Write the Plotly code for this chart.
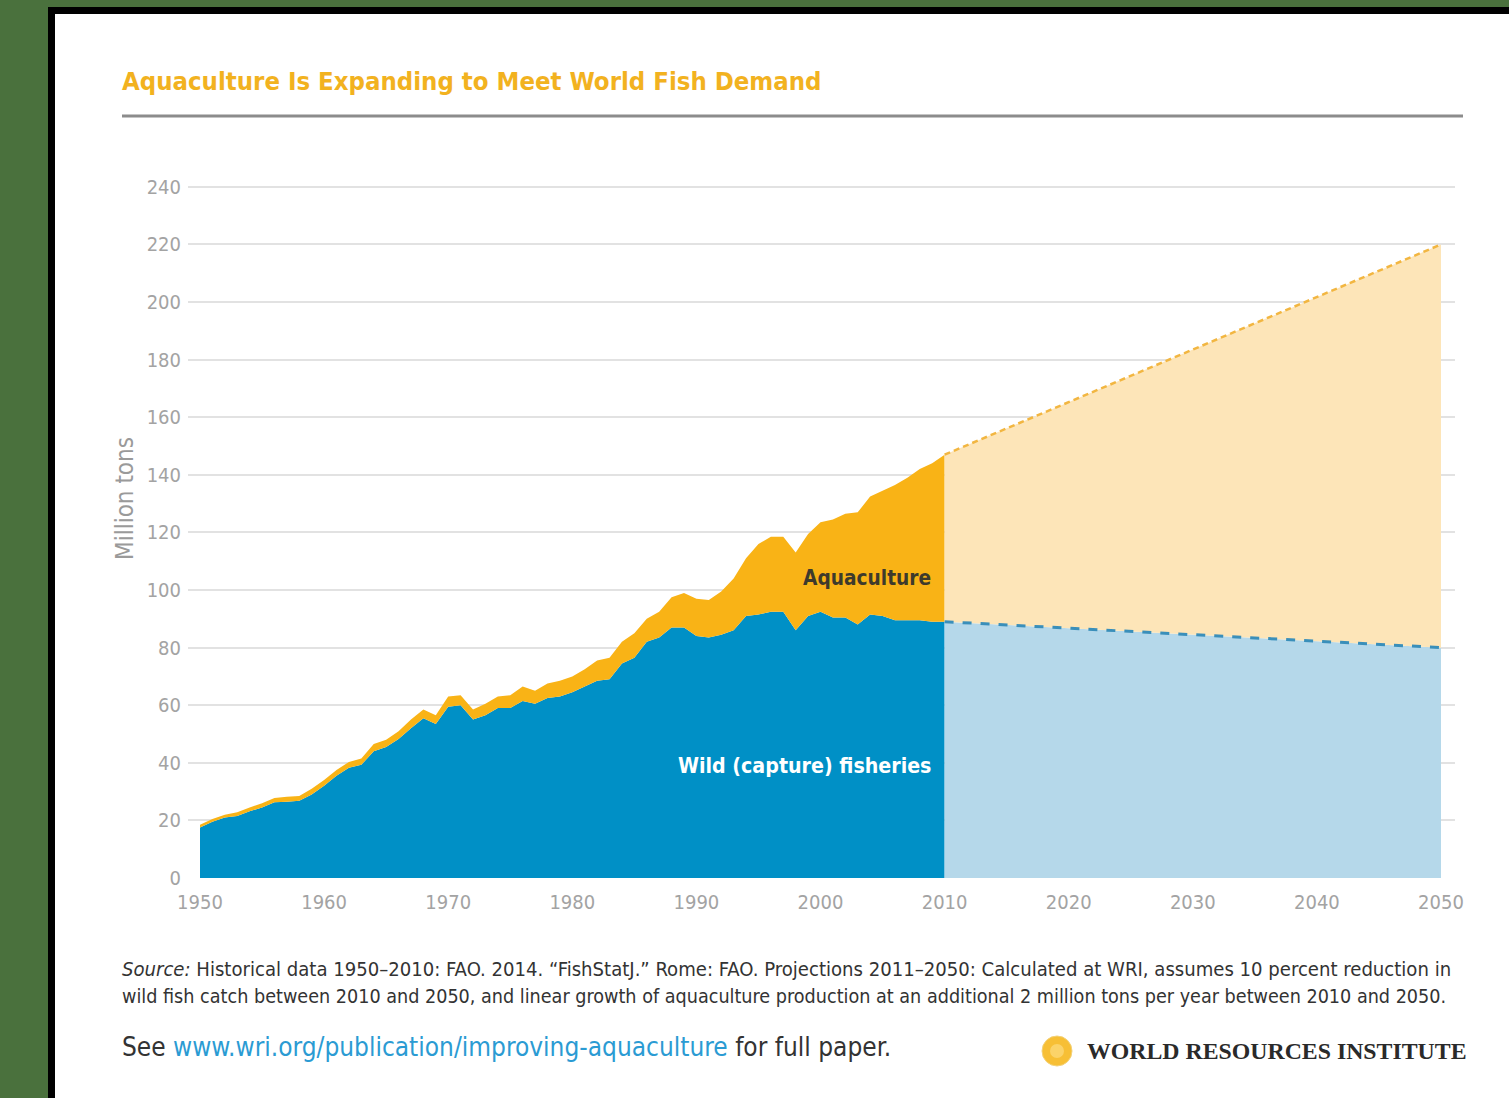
import plotly.graph_objects as go

# ---------------- data ----------------
years = list(range(1950, 2011))
wild = [17.5, 19.5, 21.0, 21.5, 23.2, 24.5, 26.3, 26.5, 26.8, 29.0,
        32.0, 35.5, 38.3, 39.3, 44.0, 45.5, 48.3, 52.0, 55.5, 53.5,
        59.5, 60.0, 55.0, 56.5, 59.0, 59.0, 61.5, 60.5, 62.5, 63.0,
        64.5, 66.5, 68.5, 69.0, 74.5, 76.5, 82.0, 83.5, 87.0, 87.0,
        84.0, 83.5, 84.5, 86.0, 91.0, 91.5, 92.5, 92.5, 86.0, 91.0,
        92.5, 90.5, 90.5, 88.0, 91.5, 91.0, 89.5, 89.5, 89.5, 89.0,
        89.0]
aquaculture = [1.0, 1.0, 1.0, 1.3, 1.3, 1.5, 1.5, 1.7, 1.7, 2.0,
               2.0, 2.0, 2.0, 2.2, 2.5, 2.5, 2.7, 3.0, 3.0, 3.0,
               3.5, 3.5, 3.5, 4.0, 4.0, 4.5, 5.0, 4.5, 5.0, 5.5,
               5.5, 6.0, 7.0, 7.5, 7.5, 8.5, 8.0, 9.0, 10.5, 12.0,
               13.0, 13.0, 15.0, 18.0, 20.0, 24.5, 26.0, 26.0, 27.0, 28.5,
               31.0, 34.0, 36.0, 39.0, 41.0, 43.5, 47.0, 49.5, 52.5, 55.0,
               58.0]
proj_years = [2010, 2050]
proj_wild = [89.0, 80.0]
proj_aquaculture = [58.0, 140.0]
proj_total = [w + a for w, a in zip(proj_wild, proj_aquaculture)]

x_ticks = list(range(1950, 2051, 10))
y_ticks = list(range(0, 241, 20))

# ---------------- layout helpers ----------------
W, H = 1509, 1098
L, R, B = 188, 1455, 878
YMAX = 241
T = round(B - YMAX * (878 - 187) / 240)


def px(x):
    return (x - L) / (R - L)


def py(y):
    return (B - y) / (B - T)


NARROW = "Liberation Sans Narrow, DejaVu Sans Condensed, Arial Narrow, sans-serif"
BLUE = "#0090c6"
ORANGE = "#f9b316"
LBLUE = "#b5d8ea"
LORANGE = "#fde5b8"

fig = go.Figure()
fig.add_trace(go.Scatter(x=years, y=wild, stackgroup="hist", mode="none",
                         fillcolor=BLUE, name="Wild (capture) fisheries",
                         hoverinfo="x+y"))
fig.add_trace(go.Scatter(x=years, y=aquaculture, stackgroup="hist", mode="none",
                         fillcolor=ORANGE, name="Aquaculture", hoverinfo="x+y"))
fig.add_trace(go.Scatter(x=proj_years, y=proj_wild, stackgroup="proj", mode="none",
                         fillcolor=LBLUE, name="Wild projection"))
fig.add_trace(go.Scatter(x=proj_years, y=proj_aquaculture, stackgroup="proj", mode="none",
                         fillcolor=LORANGE, name="Aquaculture projection"))
fig.add_trace(go.Scatter(x=proj_years, y=proj_wild, mode="lines",
                         line=dict(color="#3a8fba", width=3, dash="dash")))
fig.add_trace(go.Scatter(x=proj_years, y=proj_total, mode="lines",
                         line=dict(color="#f2b641", width=2.5, dash="6px,4px")))

shapes = [
    dict(type="rect", xref="paper", yref="paper", x0=px(48), x1=px(1520),
         y0=py(1110), y1=py(7), fillcolor="#000000", line=dict(width=0), layer="below"),
    dict(type="rect", xref="paper", yref="paper", x0=px(55), x1=px(1520),
         y0=py(1110), y1=py(14), fillcolor="#ffffff", line=dict(width=0), layer="below"),
    dict(type="line", xref="paper", yref="paper", x0=px(122), x1=px(1463),
         y0=py(116), y1=py(116), line=dict(color="#8c8c8c", width=3)),
    dict(type="circle", xref="paper", yref="paper", x0=px(1042), x1=px(1072),
         y0=py(1066), y1=py(1036), fillcolor="#f7bf35", line=dict(color="#f3d27a", width=1)),
    dict(type="circle", xref="paper", yref="paper", x0=px(1050), x1=px(1064),
         y0=py(1058), y1=py(1044), fillcolor="#fbd369", line=dict(width=0)),
]

annotations = [
    dict(text="<b>Aquaculture Is Expanding to Meet World Fish Demand</b>",
         xref="paper", yref="paper", x=px(120), y=py(81), xanchor="left", yanchor="middle",
         showarrow=False, font=dict(family=NARROW, size=25.5, color="#f2b21f")),
    dict(text="Million tons", xref="paper", yref="paper", x=px(125), y=py(499),
         xanchor="center", yanchor="middle", textangle=-90, showarrow=False,
         font=dict(family=NARROW, size=24, color="#9a9a9a")),
    dict(text="<b>Aquaculture</b>", x=2003.75, y=104.2, xref="x", yref="y",
         showarrow=False, font=dict(family=NARROW, size=20.7, color="#3e3a2c")),
    dict(text="<b>Wild (capture) fisheries</b>", x=1998.75, y=38.9, xref="x", yref="y",
         showarrow=False, font=dict(family=NARROW, size=21.2, color="#ffffff")),
    dict(text="<i>Source:</i> Historical data 1950–2010: FAO. 2014. “FishStatJ.” Rome: FAO. "
              "Projections 2011–2050: Calculated at WRI, assumes 10 percent reduction in",
         xref="paper", yref="paper", x=px(120), y=py(969), xanchor="left", yanchor="middle",
         showarrow=False, font=dict(family=NARROW, size=20.1, color="#333333")),
    dict(text="wild fish catch between 2010 and 2050, and linear growth of aquaculture production "
              "at an additional 2 million tons per year between 2010 and 2050.",
         xref="paper", yref="paper", x=px(120), y=py(996), xanchor="left", yanchor="middle",
         showarrow=False, font=dict(family=NARROW, size=19.6, color="#333333")),
    dict(text="See <span style='color:#2b9bd3'>www.wri.org/publication/improving-aquaculture</span>"
              " for full paper.",
         xref="paper", yref="paper", x=px(120), y=py(1047), xanchor="left", yanchor="middle",
         showarrow=False, font=dict(family=NARROW, size=26, color="#333333")),
    dict(text="<b>WORLD RESOURCES INSTITUTE</b>",
         xref="paper", yref="paper", x=px(1085), y=py(1051), xanchor="left", yanchor="middle",
         showarrow=False, font=dict(family="Liberation Serif, DejaVu Serif, serif", size=23.8,
                                    color="#2a2a2a")),
]

fig.update_layout(
    width=W, height=H,
    margin=dict(l=L, r=W - R, t=T, b=H - B, pad=0),
    paper_bgcolor="#4a713d",
    plot_bgcolor="#ffffff",
    showlegend=False,
    shapes=shapes,
    annotations=annotations,
    xaxis=dict(range=[1950 - 12 / 12.41, 2050 + 14 / 12.41], tickvals=x_ticks,
               showgrid=False, zeroline=False, showline=False, ticks="",
               ticklabelstandoff=10,
               tickfont=dict(family=NARROW, size=20, color="#a3a3a3")),
    yaxis=dict(range=[0, YMAX], tickvals=y_ticks, showgrid=True, gridcolor="#e2e2e2",
               gridwidth=2, zeroline=False, showline=False, ticks="",
               ticklabelstandoff=6,
               tickfont=dict(family=NARROW, size=20, color="#a3a3a3")),
)

fig.write_html("out.html")
